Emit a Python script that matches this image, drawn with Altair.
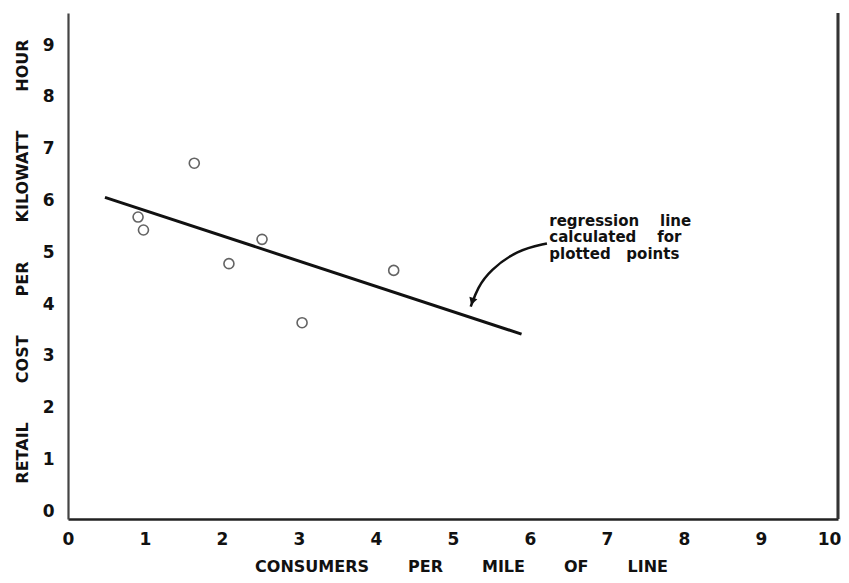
import altair as alt
import pandas as pd

# ---- data ----
consumers = [1.64, 0.91, 0.98, 2.09, 2.52, 4.23, 3.04]
cost = [6.72, 5.68, 5.43, 4.78, 5.25, 4.65, 3.64]

reg_x = [0.48, 5.89]
reg_y = [6.06, 3.42]

x_ticks = [0, 1, 2, 3, 4, 5, 6, 7, 8, 9, 10]
y_ticks = [0, 1, 2, 3, 4, 5, 6, 7, 8, 9]

note_lines = ["regression\u00a0\u00a0\u00a0\u00a0line",
              "calculated\u00a0\u00a0\u00a0\u00a0for",
              "plotted\u00a0\u00a0\u00a0points"]
note_x = [6.25, 6.25, 6.25]
note_y = [5.61, 5.29, 4.97]

arrow_x = [6.22, 5.83, 5.48, 5.32, 5.23]
arrow_y = [5.17, 5.04, 4.65, 4.32, 3.95]
arrow_head_x = [5.25]
arrow_head_y = [4.05]

FONT = "DejaVu Sans"
NB = "\u00a0" * 7
x_title = NB.join(["CONSUMERS", "PER", "MILE", "OF", "LINE"])
y_title = NB.join(["RETAIL", "COST", "PER", "KILOWATT", "HOUR"])

W, H = 770, 506

pts = pd.DataFrame({"x": consumers, "y": cost})
reg = pd.DataFrame({"x": reg_x, "y": reg_y})
notes = pd.DataFrame({"x": note_x, "y": note_y, "t": note_lines})
arrow = pd.DataFrame({"x": arrow_x, "y": arrow_y, "o": list(range(len(arrow_x)))})
head = pd.DataFrame({"x": arrow_head_x, "y": arrow_head_y})

xs = alt.Scale(domain=[0, 10], nice=False, zero=False)
ys = alt.Scale(domain=[-0.15, 9.62], nice=False, zero=False)

x_axis = alt.Axis(values=x_ticks, format="d", title=x_title, grid=False,
                  ticks=False, labelPadding=12, labelFont=FONT,
                  labelFontSize=17, labelFontWeight="bold", labelColor="#111",
                  labelOffset={"condition": {"test": "datum.value === 10",
                                             "value": -9}, "value": 0},
                  titleFont=FONT, titleFontSize=16, titleFontWeight="bold",
                  titleColor="#111", titleX=393, titleY=47,
                  titleBaseline="middle", titleAlign="center",
                  domainColor="#222", domainWidth=2.5, labelFlush=False)
y_axis = alt.Axis(values=y_ticks, format="d", title=y_title, grid=False,
                  ticks=False, labelPadding=14, labelFont=FONT,
                  labelFontSize=17, labelFontWeight="bold", labelColor="#111",
                  titleFont=FONT, titleFontSize=16, titleFontWeight="bold",
                  titleColor="#111", titleX=-46, titleY=248, titleAngle=270,
                  titleBaseline="middle", titleAlign="center",
                  domainColor="#444", domainWidth=2.2, labelFlush=False)

base_pts = alt.Chart(pts).mark_point(shape="circle", filled=False, size=100,
                                     strokeWidth=1.6, color="#222").encode(
    x=alt.X("x:Q", scale=xs, axis=x_axis),
    y=alt.Y("y:Q", scale=ys, axis=y_axis),
)

reg_line = alt.Chart(reg).mark_line(color="#111", strokeWidth=3).encode(
    x=alt.X("x:Q", scale=xs), y=alt.Y("y:Q", scale=ys))

right_line = alt.Chart(pts).mark_rule(color="#333", strokeWidth=2.2).encode(
    x=alt.datum(10), y=alt.value(0), y2=alt.value(H))

note_text = alt.Chart(notes).mark_text(align="left", baseline="middle",
                                       font=FONT, fontSize=15, fontWeight="bold",
                                       color="#111").encode(
    x=alt.X("x:Q", scale=xs), y=alt.Y("y:Q", scale=ys), text="t:N")

arrow_line = alt.Chart(arrow).mark_line(color="#111", strokeWidth=2.5,
                                        interpolate="basis").encode(
    x=alt.X("x:Q", scale=xs), y=alt.Y("y:Q", scale=ys), order="o:Q")

arrow_head = alt.Chart(head).mark_point(shape="triangle-down", filled=True,
                                        size=70, color="#111", opacity=1,
                                        angle=18).encode(
    x=alt.X("x:Q", scale=xs), y=alt.Y("y:Q", scale=ys))

chart = alt.layer(base_pts, reg_line, right_line, note_text, arrow_line,
                  arrow_head).properties(
    width=W, height=H,
    autosize=alt.AutoSizeParams(type="none"),
    padding={"left": 60, "top": 5, "right": 3, "bottom": 56},
    background="white",
).configure_view(stroke=None)

chart.save("out.html", embed_options={"renderer": "svg", "actions": False})
